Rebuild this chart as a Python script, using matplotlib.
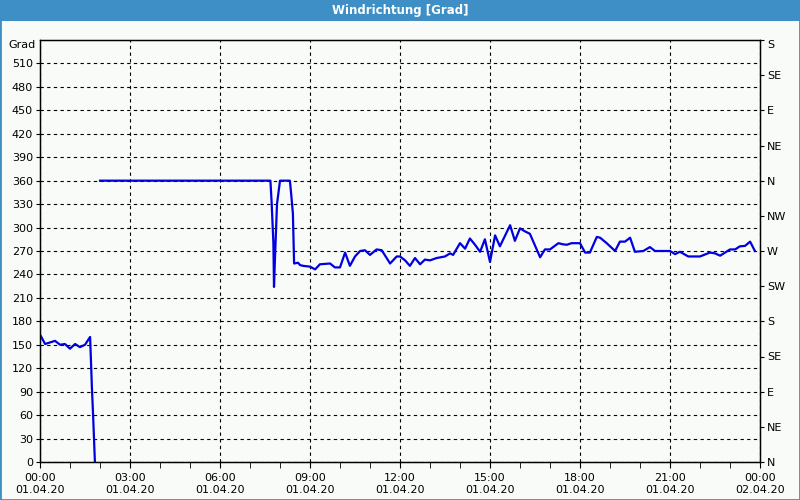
import numpy as np
import matplotlib.pyplot as plt
from matplotlib.patches import Rectangle

# zeit in stunden ab 01.04.20 00:00, richtung in grad
t = [0.03, 0.17, 0.5, 0.67, 0.83, 1.0, 1.17, 1.33, 1.5, 1.67, 1.7, 1.73, 1.77, 1.8, 1.83,
     np.nan,
     2.0, 7.68, 7.72, 7.78, 7.8, 7.83, 7.9, 8.0, 8.33, 8.37, 8.43, 8.47,
     8.6, 8.67, 8.77, 9.0, 9.17, 9.33, 9.67, 9.83, 10.0, 10.17, 10.33, 10.5, 10.67, 10.83,
     11.0, 11.22, 11.39, 11.67, 11.89, 12.0, 12.17, 12.33, 12.5, 12.67, 12.83, 13.0,
     13.22, 13.5, 13.67, 13.77, 14.0, 14.17, 14.33, 14.5, 14.67, 14.83, 15.0, 15.17,
     15.33, 15.67, 15.83, 16.0, 16.17, 16.33, 16.67, 16.83, 17.0, 17.28, 17.44, 17.56,
     17.72, 18.0, 18.17, 18.33, 18.56, 18.67, 18.89, 19.17, 19.33, 19.5, 19.67, 19.83,
     20.11, 20.33, 20.5, 21.0, 21.17, 21.33, 21.61, 22.0, 22.33, 22.5, 22.67, 23.0, 23.17,
     23.33, 23.5, 23.67, 23.83]
grad = [161, 151, 155, 150, 151, 145, 151, 147, 150, 160, 128, 95, 60, 30, 0,
        np.nan,
        360, 360, 333, 280, 224, 258, 330, 360, 360, 344, 318, 254,
        255, 252, 251, 250, 246.5, 253, 254, 249, 249, 268, 251, 263, 270, 271,
        265, 272, 271, 254, 263, 263, 258, 251, 261, 253, 259, 258,
        261, 263, 267, 265, 280, 273, 286, 278, 269, 285, 256, 290,
        276, 303, 283, 299, 295, 292, 262, 272, 272, 280, 278.5, 278,
        280, 280, 268, 268, 288, 287, 280, 270, 282, 282, 287, 269,
        270, 275, 270, 270, 266, 269, 263, 263, 268, 267, 264, 272, 272,
        276, 276.5, 282, 270]

xticks = [0, 3, 6, 9, 12, 15, 18, 21, 24]
xlabels = ["00:00\n01.04.20", "03:00\n01.04.20", "06:00\n01.04.20", "09:00\n01.04.20",
           "12:00\n01.04.20", "15:00\n01.04.20", "18:00\n01.04.20", "21:00\n01.04.20",
           "00:00\n02.04.20"]
yticks = list(range(0, 511, 30))
rticks = list(range(0, 541, 45))
rlabels = ["N", "NE", "E", "SE", "S", "SW", "W", "NW", "N", "NE", "E", "SE", "S"]

bg = "#f8fbf8"
fig = plt.figure(figsize=(8, 5), dpi=100, facecolor=bg)
ax = fig.add_axes([0.05, 0.076, 0.90, 0.844])
ax.set_facecolor(bg)

ax.plot(t, grad, color="#0000e0", linewidth=1.6, zorder=3)

ax.set_xlim(0, 24)
ax.set_ylim(0, 540)
ax.set_xticks(xticks)
ax.set_xticklabels(xlabels, fontsize=8)
ax.set_xticks(range(0, 25), minor=True)
ax.set_yticks(yticks)
ax.tick_params(axis="y", labelsize=8, length=3, pad=2)
ax.tick_params(axis="x", which="both", length=4, pad=4)
ax.grid(True, color="black", linestyle=(0, (3, 3)), linewidth=0.8)
for s in ax.spines.values():
    s.set_linewidth(1.0)

ax2 = ax.twinx()
ax2.set_ylim(0, 540)
ax2.set_yticks(rticks)
ax2.set_yticklabels(rlabels)
ax2.tick_params(axis="y", labelsize=8, length=3, pad=2)
ax2.get_yticklabels()[-1].set_va("top")

ax.text(-0.006, 0.988, "Grad", transform=ax.transAxes, ha="right", va="center", fontsize=8)

# titelleiste und rahmen
fig.patches.append(Rectangle((0, 0.958), 1, 0.042, transform=fig.transFigure,
                             facecolor="#3d8fc6", edgecolor="none"))
fig.patches.append(Rectangle((0, 0), 1, 1, transform=fig.transFigure,
                             facecolor="none", edgecolor="#3d8fc6", linewidth=2))
fig.text(0.5, 0.979, "Windrichtung [Grad]", color="white", fontsize=8.5,
         fontweight="bold", ha="center", va="center")

plt.savefig("out.png", dpi=100, facecolor=bg)
